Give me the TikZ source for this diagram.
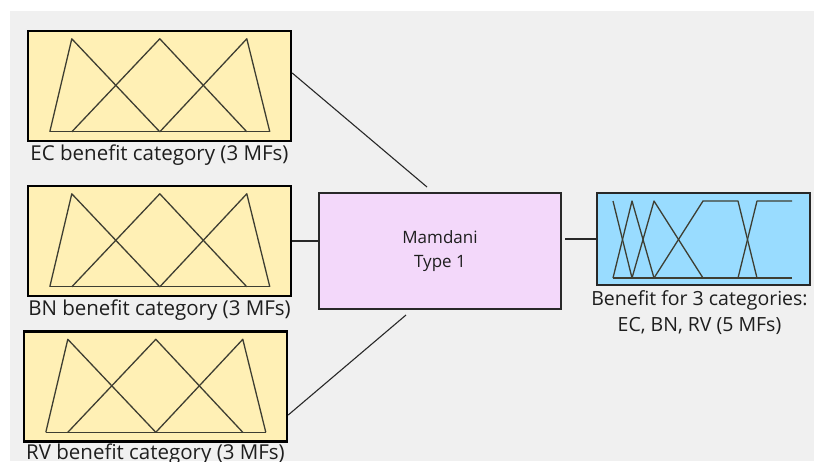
\documentclass[tikz,border=0pt]{standalone}
\usepackage{fontspec}
\setmainfont{Open Sans}
\usepackage{tikz}
\usetikzlibrary{
    positioning,
    calc
}
\definecolor{PanelGray}{RGB}{240,240,240}
\definecolor{InYellow}{RGB}{255,240,181}
\definecolor{EnginePink}{RGB}{243,216,250}
\definecolor{OutBlue}{RGB}{153,220,255}
\definecolor{MfInk}{RGB}{62,62,50}
\definecolor{LinkInk}{RGB}{40,40,40}
\definecolor{LabelInk}{RGB}{30,30,30}
\tikzset{
    inbox/.style={draw=black, line width=2.4pt, fill=InYellow, minimum width=263pt, minimum height=110pt, inner sep=0pt},
    engine/.style={draw=LinkInk, line width=2pt, fill=EnginePink, minimum width=242pt, minimum height=116pt, inner sep=0pt,
        font=\fontsize{17}{24}\selectfont, text=LabelInk, align=center},
    outbox/.style={draw=LinkInk, line width=2pt, fill=OutBlue, minimum width=213pt, minimum height=92pt, inner sep=0pt},
    caption/.style={font=\fontsize{20.5}{26}\selectfont, text=LabelInk, align=center, inner sep=0pt},
    mfline/.style={draw=MfInk, line width=1.3pt, line join=round},
    link/.style={draw=LinkInk, line width=1.1pt},
    mfthree/.pic={
        \draw[mfline] (23,102) -- (243,102);
        \draw[mfline] (23,102) -- (45,9) -- (133,102);
        \draw[mfline] (45,102) -- (133,9) -- (220,102);
        \draw[mfline] (133,102) -- (220,9) -- (243,102);
    },
    mffive/.pic={
        \draw[mfline] (17,86) -- (196,86);
        \draw[mfline] (17,9) -- (36,86);
        \draw[mfline] (17,86) -- (36,9) -- (58,86);
        \draw[mfline] (36,86) -- (58,9) -- (107,86);
        \draw[mfline] (58,86) -- (107,9) -- (142,9) -- (161,86);
        \draw[mfline] (142,86) -- (161,9) -- (196,9);
    }
}

\begin{document}
\begin{tikzpicture}[x=1pt, y=-1pt]
    \useasboundingbox (0,0) rectangle (814,461);
    \clip (0,0) rectangle (814,461);
    \fill[white] (0,0) rectangle (814,461);
    \fill[PanelGray] (10,11) rectangle (814,461);
    \node[inbox] (ec) at (159.5,86) {};
    \node[inbox] (bn) at (159.5,241) {};
    \node[inbox] (rv) at (155.5,386.5) {};
    \node[engine] (mam) at (440,251) {Mamdani\\Type 1};
    \node[outbox] (out) at (703.5,239) {};
    \pic at (ec.north west) {mfthree};
    \pic at (bn.north west) {mfthree};
    \pic at (rv.north west) {mfthree};
    \pic at (out.north west) {mffive};
    \node[caption] (eccap) [below=2pt of ec] {EC benefit category (3 MFs)};
    \node[caption] (bncap) [below=2pt of bn] {BN benefit category (3 MFs)};
    \node[caption] (rvcap) [below=1pt of rv] {RV benefit category (3 MFs)};
    \node[caption, font=\fontsize{19.5}{26}\selectfont, xshift=-4pt] (outcap) [below=4pt of out] {Benefit for 3 categories:\\EC, BN, RV (5 MFs)};
    \draw[link] ([yshift=13pt]ec.east) -- ([xshift=-13pt,yshift=5pt]mam.north);
    \draw[link] (bn.east) -- (bn.east -| mam.west);
    \draw[link] ([yshift=-28.5pt]rv.east) -- ([xshift=-34pt,yshift=-5pt]mam.south);
    \draw[link] ([xshift=3pt]mam.east |- out.west) -- (out.west);
\end{tikzpicture}
\end{document}
